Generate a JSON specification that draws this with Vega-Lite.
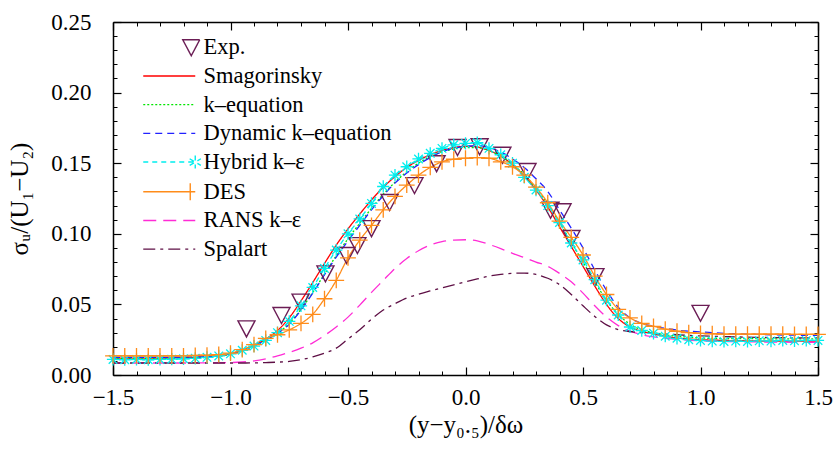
{
"$schema": "https://vega.github.io/schema/vega-lite/v6.json",
"width": 705, "height": 353,
"autosize": {"type": "none"},
"padding": {"left": 113, "top": 22, "right": 15, "bottom": 74},
"background": "white",
"config": {
 "view": {"stroke": null},
 "font": "Liberation Serif",
 "axis": {"labelFont": "Liberation Serif", "titleFont": "Liberation Serif", "labelColor": "black", "titleColor": "black", "domainColor": "black", "tickColor": "black", "grid": false, "labelFontSize": 23, "titleFontSize": 25, "titleFontWeight": "normal", "domainWidth": 1.5, "labelFlush": false}
},
"datasets": {
 "exp": [
  {"s":"Exp.","x":-0.932,"y":0.033},{"s":"Exp.","x":-0.783,"y":0.0425},{"s":"Exp.","x":-0.702,"y":0.052},{"s":"Exp.","x":-0.596,"y":0.072},{"s":"Exp.","x":-0.506,"y":0.085},{"s":"Exp.","x":-0.46,"y":0.092},{"s":"Exp.","x":-0.40,"y":0.104},{"s":"Exp.","x":-0.323,"y":0.1225},{"s":"Exp.","x":-0.217,"y":0.1345},{"s":"Exp.","x":-0.123,"y":0.150},{"s":"Exp.","x":-0.034,"y":0.1615},{"s":"Exp.","x":0.06,"y":0.162},{"s":"Exp.","x":0.157,"y":0.156},{"s":"Exp.","x":0.264,"y":0.1445},{"s":"Exp.","x":0.362,"y":0.117},{"s":"Exp.","x":0.413,"y":0.116},{"s":"Exp.","x":0.451,"y":0.097},{"s":"Exp.","x":0.553,"y":0.070},{"s":"Exp.","x":1.0,"y":0.044}
 ],
 "curves": [
  {"s":"Smagorinsky","x":-1.5,"y":0.012},{"s":"Smagorinsky","x":-1.4,"y":0.012},{"s":"Smagorinsky","x":-1.3,"y":0.012},{"s":"Smagorinsky","x":-1.2,"y":0.0122},{"s":"Smagorinsky","x":-1.1,"y":0.0128},{"s":"Smagorinsky","x":-1.0,"y":0.015},{"s":"Smagorinsky","x":-0.95,"y":0.0178},{"s":"Smagorinsky","x":-0.9,"y":0.021},{"s":"Smagorinsky","x":-0.85,"y":0.0255},{"s":"Smagorinsky","x":-0.8,"y":0.0315},{"s":"Smagorinsky","x":-0.75,"y":0.0405},{"s":"Smagorinsky","x":-0.7,"y":0.0525},{"s":"Smagorinsky","x":-0.65,"y":0.0655},{"s":"Smagorinsky","x":-0.6,"y":0.079},{"s":"Smagorinsky","x":-0.55,"y":0.092},{"s":"Smagorinsky","x":-0.5,"y":0.1035},{"s":"Smagorinsky","x":-0.45,"y":0.114},{"s":"Smagorinsky","x":-0.4,"y":0.124},{"s":"Smagorinsky","x":-0.35,"y":0.133},{"s":"Smagorinsky","x":-0.3,"y":0.1405},{"s":"Smagorinsky","x":-0.25,"y":0.147},{"s":"Smagorinsky","x":-0.2,"y":0.152},{"s":"Smagorinsky","x":-0.15,"y":0.156},{"s":"Smagorinsky","x":-0.1,"y":0.159},{"s":"Smagorinsky","x":-0.05,"y":0.161},{"s":"Smagorinsky","x":0,"y":0.162},{"s":"Smagorinsky","x":0.05,"y":0.1615},{"s":"Smagorinsky","x":0.1,"y":0.159},{"s":"Smagorinsky","x":0.15,"y":0.155},{"s":"Smagorinsky","x":0.2,"y":0.149},{"s":"Smagorinsky","x":0.25,"y":0.141},{"s":"Smagorinsky","x":0.3,"y":0.131},{"s":"Smagorinsky","x":0.35,"y":0.119},{"s":"Smagorinsky","x":0.4,"y":0.105},{"s":"Smagorinsky","x":0.45,"y":0.091},{"s":"Smagorinsky","x":0.5,"y":0.077},{"s":"Smagorinsky","x":0.55,"y":0.063},{"s":"Smagorinsky","x":0.6,"y":0.05},{"s":"Smagorinsky","x":0.65,"y":0.04},{"s":"Smagorinsky","x":0.7,"y":0.034},{"s":"Smagorinsky","x":0.75,"y":0.031},{"s":"Smagorinsky","x":0.8,"y":0.029},{"s":"Smagorinsky","x":0.85,"y":0.0275},{"s":"Smagorinsky","x":0.9,"y":0.0262},{"s":"Smagorinsky","x":0.95,"y":0.0255},{"s":"Smagorinsky","x":1.0,"y":0.025},{"s":"Smagorinsky","x":1.1,"y":0.0245},{"s":"Smagorinsky","x":1.2,"y":0.0242},{"s":"Smagorinsky","x":1.3,"y":0.024},{"s":"Smagorinsky","x":1.4,"y":0.024},{"s":"Smagorinsky","x":1.5,"y":0.024},
  {"s":"k–equation","x":-1.5,"y":0.0118},{"s":"k–equation","x":-1.4,"y":0.0118},{"s":"k–equation","x":-1.3,"y":0.0118},{"s":"k–equation","x":-1.2,"y":0.012},{"s":"k–equation","x":-1.1,"y":0.0127},{"s":"k–equation","x":-1.0,"y":0.0148},{"s":"k–equation","x":-0.95,"y":0.0172},{"s":"k–equation","x":-0.9,"y":0.0205},{"s":"k–equation","x":-0.85,"y":0.0245},{"s":"k–equation","x":-0.8,"y":0.0295},{"s":"k–equation","x":-0.75,"y":0.0365},{"s":"k–equation","x":-0.7,"y":0.0465},{"s":"k–equation","x":-0.65,"y":0.0585},{"s":"k–equation","x":-0.6,"y":0.0715},{"s":"k–equation","x":-0.55,"y":0.0845},{"s":"k–equation","x":-0.5,"y":0.0965},{"s":"k–equation","x":-0.45,"y":0.1075},{"s":"k–equation","x":-0.4,"y":0.118},{"s":"k–equation","x":-0.35,"y":0.128},{"s":"k–equation","x":-0.3,"y":0.1365},{"s":"k–equation","x":-0.25,"y":0.144},{"s":"k–equation","x":-0.2,"y":0.15},{"s":"k–equation","x":-0.15,"y":0.1545},{"s":"k–equation","x":-0.1,"y":0.158},{"s":"k–equation","x":-0.05,"y":0.16},{"s":"k–equation","x":0,"y":0.161},{"s":"k–equation","x":0.05,"y":0.161},{"s":"k–equation","x":0.1,"y":0.159},{"s":"k–equation","x":0.15,"y":0.155},{"s":"k–equation","x":0.2,"y":0.149},{"s":"k–equation","x":0.25,"y":0.142},{"s":"k–equation","x":0.3,"y":0.132},{"s":"k–equation","x":0.35,"y":0.121},{"s":"k–equation","x":0.4,"y":0.108},{"s":"k–equation","x":0.45,"y":0.094},{"s":"k–equation","x":0.5,"y":0.08},{"s":"k–equation","x":0.55,"y":0.066},{"s":"k–equation","x":0.6,"y":0.053},{"s":"k–equation","x":0.65,"y":0.043},{"s":"k–equation","x":0.7,"y":0.036},{"s":"k–equation","x":0.75,"y":0.032},{"s":"k–equation","x":0.8,"y":0.03},{"s":"k–equation","x":0.85,"y":0.0285},{"s":"k–equation","x":0.9,"y":0.0275},{"s":"k–equation","x":0.95,"y":0.0268},{"s":"k–equation","x":1.0,"y":0.0262},{"s":"k–equation","x":1.1,"y":0.0258},{"s":"k–equation","x":1.2,"y":0.0258},{"s":"k–equation","x":1.3,"y":0.0256},{"s":"k–equation","x":1.4,"y":0.0256},{"s":"k–equation","x":1.5,"y":0.0255},
  {"s":"Dynamic k–equation","x":-1.5,"y":0.0125},{"s":"Dynamic k–equation","x":-1.4,"y":0.0125},{"s":"Dynamic k–equation","x":-1.3,"y":0.0125},{"s":"Dynamic k–equation","x":-1.2,"y":0.0127},{"s":"Dynamic k–equation","x":-1.1,"y":0.0132},{"s":"Dynamic k–equation","x":-1.0,"y":0.015},{"s":"Dynamic k–equation","x":-0.95,"y":0.0175},{"s":"Dynamic k–equation","x":-0.9,"y":0.0208},{"s":"Dynamic k–equation","x":-0.85,"y":0.0248},{"s":"Dynamic k–equation","x":-0.8,"y":0.0295},{"s":"Dynamic k–equation","x":-0.75,"y":0.036},{"s":"Dynamic k–equation","x":-0.7,"y":0.046},{"s":"Dynamic k–equation","x":-0.65,"y":0.058},{"s":"Dynamic k–equation","x":-0.6,"y":0.071},{"s":"Dynamic k–equation","x":-0.55,"y":0.0835},{"s":"Dynamic k–equation","x":-0.5,"y":0.095},{"s":"Dynamic k–equation","x":-0.45,"y":0.106},{"s":"Dynamic k–equation","x":-0.4,"y":0.117},{"s":"Dynamic k–equation","x":-0.35,"y":0.127},{"s":"Dynamic k–equation","x":-0.3,"y":0.136},{"s":"Dynamic k–equation","x":-0.25,"y":0.143},{"s":"Dynamic k–equation","x":-0.2,"y":0.149},{"s":"Dynamic k–equation","x":-0.15,"y":0.154},{"s":"Dynamic k–equation","x":-0.1,"y":0.158},{"s":"Dynamic k–equation","x":-0.05,"y":0.1605},{"s":"Dynamic k–equation","x":0,"y":0.162},{"s":"Dynamic k–equation","x":0.05,"y":0.1625},{"s":"Dynamic k–equation","x":0.1,"y":0.161},{"s":"Dynamic k–equation","x":0.15,"y":0.158},{"s":"Dynamic k–equation","x":0.2,"y":0.153},{"s":"Dynamic k–equation","x":0.25,"y":0.147},{"s":"Dynamic k–equation","x":0.3,"y":0.139},{"s":"Dynamic k–equation","x":0.35,"y":0.13},{"s":"Dynamic k–equation","x":0.4,"y":0.117},{"s":"Dynamic k–equation","x":0.45,"y":0.104},{"s":"Dynamic k–equation","x":0.5,"y":0.09},{"s":"Dynamic k–equation","x":0.55,"y":0.0745},{"s":"Dynamic k–equation","x":0.6,"y":0.06},{"s":"Dynamic k–equation","x":0.65,"y":0.048},{"s":"Dynamic k–equation","x":0.7,"y":0.0405},{"s":"Dynamic k–equation","x":0.75,"y":0.0365},{"s":"Dynamic k–equation","x":0.8,"y":0.0345},{"s":"Dynamic k–equation","x":0.85,"y":0.033},{"s":"Dynamic k–equation","x":0.9,"y":0.0318},{"s":"Dynamic k–equation","x":0.95,"y":0.031},{"s":"Dynamic k–equation","x":1.0,"y":0.0305},{"s":"Dynamic k–equation","x":1.1,"y":0.0295},{"s":"Dynamic k–equation","x":1.2,"y":0.029},{"s":"Dynamic k–equation","x":1.3,"y":0.0285},{"s":"Dynamic k–equation","x":1.4,"y":0.0282},{"s":"Dynamic k–equation","x":1.5,"y":0.028},
  {"s":"Hybrid k–ε","x":-1.5,"y":0.011},{"s":"Hybrid k–ε","x":-1.45,"y":0.0108},{"s":"Hybrid k–ε","x":-1.4,"y":0.011},{"s":"Hybrid k–ε","x":-1.35,"y":0.0108},{"s":"Hybrid k–ε","x":-1.3,"y":0.011},{"s":"Hybrid k–ε","x":-1.25,"y":0.0112},{"s":"Hybrid k–ε","x":-1.2,"y":0.0115},{"s":"Hybrid k–ε","x":-1.15,"y":0.0118},{"s":"Hybrid k–ε","x":-1.1,"y":0.0125},{"s":"Hybrid k–ε","x":-1.05,"y":0.0135},{"s":"Hybrid k–ε","x":-1.0,"y":0.015},{"s":"Hybrid k–ε","x":-0.95,"y":0.0175},{"s":"Hybrid k–ε","x":-0.9,"y":0.0205},{"s":"Hybrid k–ε","x":-0.85,"y":0.0245},{"s":"Hybrid k–ε","x":-0.8,"y":0.03},{"s":"Hybrid k–ε","x":-0.75,"y":0.038},{"s":"Hybrid k–ε","x":-0.7,"y":0.049},{"s":"Hybrid k–ε","x":-0.65,"y":0.062},{"s":"Hybrid k–ε","x":-0.6,"y":0.0755},{"s":"Hybrid k–ε","x":-0.55,"y":0.0885},{"s":"Hybrid k–ε","x":-0.5,"y":0.1},{"s":"Hybrid k–ε","x":-0.45,"y":0.1105},{"s":"Hybrid k–ε","x":-0.4,"y":0.1215},{"s":"Hybrid k–ε","x":-0.35,"y":0.1335},{"s":"Hybrid k–ε","x":-0.3,"y":0.1415},{"s":"Hybrid k–ε","x":-0.25,"y":0.1475},{"s":"Hybrid k–ε","x":-0.2,"y":0.153},{"s":"Hybrid k–ε","x":-0.15,"y":0.157},{"s":"Hybrid k–ε","x":-0.1,"y":0.1605},{"s":"Hybrid k–ε","x":-0.05,"y":0.163},{"s":"Hybrid k–ε","x":0,"y":0.164},{"s":"Hybrid k–ε","x":0.05,"y":0.1645},{"s":"Hybrid k–ε","x":0.1,"y":0.1605},{"s":"Hybrid k–ε","x":0.15,"y":0.156},{"s":"Hybrid k–ε","x":0.2,"y":0.15},{"s":"Hybrid k–ε","x":0.25,"y":0.14},{"s":"Hybrid k–ε","x":0.3,"y":0.131},{"s":"Hybrid k–ε","x":0.35,"y":0.12},{"s":"Hybrid k–ε","x":0.4,"y":0.108},{"s":"Hybrid k–ε","x":0.45,"y":0.0935},{"s":"Hybrid k–ε","x":0.5,"y":0.0815},{"s":"Hybrid k–ε","x":0.55,"y":0.0675},{"s":"Hybrid k–ε","x":0.6,"y":0.053},{"s":"Hybrid k–ε","x":0.65,"y":0.0425},{"s":"Hybrid k–ε","x":0.7,"y":0.034},{"s":"Hybrid k–ε","x":0.75,"y":0.0315},{"s":"Hybrid k–ε","x":0.8,"y":0.0295},{"s":"Hybrid k–ε","x":0.85,"y":0.0275},{"s":"Hybrid k–ε","x":0.9,"y":0.026},{"s":"Hybrid k–ε","x":0.95,"y":0.025},{"s":"Hybrid k–ε","x":1.0,"y":0.0245},{"s":"Hybrid k–ε","x":1.05,"y":0.024},{"s":"Hybrid k–ε","x":1.1,"y":0.0238},{"s":"Hybrid k–ε","x":1.15,"y":0.024},{"s":"Hybrid k–ε","x":1.2,"y":0.0238},{"s":"Hybrid k–ε","x":1.25,"y":0.0242},{"s":"Hybrid k–ε","x":1.3,"y":0.024},{"s":"Hybrid k–ε","x":1.35,"y":0.0245},{"s":"Hybrid k–ε","x":1.4,"y":0.0242},{"s":"Hybrid k–ε","x":1.45,"y":0.0245},{"s":"Hybrid k–ε","x":1.5,"y":0.0245},
  {"s":"DES","x":-1.5,"y":0.0135},{"s":"DES","x":-1.45,"y":0.0135},{"s":"DES","x":-1.4,"y":0.0135},{"s":"DES","x":-1.35,"y":0.0135},{"s":"DES","x":-1.3,"y":0.0135},{"s":"DES","x":-1.25,"y":0.0135},{"s":"DES","x":-1.2,"y":0.0135},{"s":"DES","x":-1.15,"y":0.0138},{"s":"DES","x":-1.1,"y":0.014},{"s":"DES","x":-1.05,"y":0.0145},{"s":"DES","x":-1.0,"y":0.0155},{"s":"DES","x":-0.95,"y":0.018},{"s":"DES","x":-0.9,"y":0.0215},{"s":"DES","x":-0.85,"y":0.026},{"s":"DES","x":-0.8,"y":0.0285},{"s":"DES","x":-0.75,"y":0.032},{"s":"DES","x":-0.7,"y":0.0365},{"s":"DES","x":-0.65,"y":0.043},{"s":"DES","x":-0.6,"y":0.054},{"s":"DES","x":-0.55,"y":0.067},{"s":"DES","x":-0.5,"y":0.083},{"s":"DES","x":-0.45,"y":0.0955},{"s":"DES","x":-0.4,"y":0.106},{"s":"DES","x":-0.35,"y":0.117},{"s":"DES","x":-0.3,"y":0.1265},{"s":"DES","x":-0.25,"y":0.1345},{"s":"DES","x":-0.2,"y":0.1415},{"s":"DES","x":-0.15,"y":0.147},{"s":"DES","x":-0.1,"y":0.151},{"s":"DES","x":-0.05,"y":0.1528},{"s":"DES","x":0,"y":0.1535},{"s":"DES","x":0.05,"y":0.154},{"s":"DES","x":0.1,"y":0.1535},{"s":"DES","x":0.15,"y":0.151},{"s":"DES","x":0.2,"y":0.1475},{"s":"DES","x":0.25,"y":0.1415},{"s":"DES","x":0.3,"y":0.133},{"s":"DES","x":0.35,"y":0.122},{"s":"DES","x":0.4,"y":0.109},{"s":"DES","x":0.45,"y":0.0975},{"s":"DES","x":0.5,"y":0.085},{"s":"DES","x":0.55,"y":0.07},{"s":"DES","x":0.6,"y":0.057},{"s":"DES","x":0.65,"y":0.0465},{"s":"DES","x":0.7,"y":0.0405},{"s":"DES","x":0.75,"y":0.0365},{"s":"DES","x":0.8,"y":0.0345},{"s":"DES","x":0.85,"y":0.0325},{"s":"DES","x":0.9,"y":0.031},{"s":"DES","x":0.95,"y":0.03},{"s":"DES","x":1.0,"y":0.0295},{"s":"DES","x":1.05,"y":0.0292},{"s":"DES","x":1.1,"y":0.029},{"s":"DES","x":1.15,"y":0.029},{"s":"DES","x":1.2,"y":0.029},{"s":"DES","x":1.25,"y":0.029},{"s":"DES","x":1.3,"y":0.029},{"s":"DES","x":1.35,"y":0.029},{"s":"DES","x":1.4,"y":0.0288},{"s":"DES","x":1.45,"y":0.0288},{"s":"DES","x":1.5,"y":0.0288},
  {"s":"RANS k–ε","x":-1.5,"y":0.0085},{"s":"RANS k–ε","x":-1.4,"y":0.0085},{"s":"RANS k–ε","x":-1.3,"y":0.0085},{"s":"RANS k–ε","x":-1.2,"y":0.0085},{"s":"RANS k–ε","x":-1.1,"y":0.0086},{"s":"RANS k–ε","x":-1.0,"y":0.0088},{"s":"RANS k–ε","x":-0.95,"y":0.0092},{"s":"RANS k–ε","x":-0.9,"y":0.01},{"s":"RANS k–ε","x":-0.85,"y":0.0115},{"s":"RANS k–ε","x":-0.8,"y":0.0135},{"s":"RANS k–ε","x":-0.75,"y":0.016},{"s":"RANS k–ε","x":-0.7,"y":0.019},{"s":"RANS k–ε","x":-0.65,"y":0.0228},{"s":"RANS k–ε","x":-0.6,"y":0.028},{"s":"RANS k–ε","x":-0.55,"y":0.034},{"s":"RANS k–ε","x":-0.5,"y":0.041},{"s":"RANS k–ε","x":-0.45,"y":0.0495},{"s":"RANS k–ε","x":-0.4,"y":0.0585},{"s":"RANS k–ε","x":-0.35,"y":0.067},{"s":"RANS k–ε","x":-0.3,"y":0.0755},{"s":"RANS k–ε","x":-0.25,"y":0.0825},{"s":"RANS k–ε","x":-0.2,"y":0.088},{"s":"RANS k–ε","x":-0.15,"y":0.092},{"s":"RANS k–ε","x":-0.1,"y":0.0945},{"s":"RANS k–ε","x":-0.05,"y":0.0955},{"s":"RANS k–ε","x":0,"y":0.0958},{"s":"RANS k–ε","x":0.05,"y":0.095},{"s":"RANS k–ε","x":0.1,"y":0.0925},{"s":"RANS k–ε","x":0.15,"y":0.0895},{"s":"RANS k–ε","x":0.2,"y":0.0862},{"s":"RANS k–ε","x":0.25,"y":0.0832},{"s":"RANS k–ε","x":0.3,"y":0.08},{"s":"RANS k–ε","x":0.35,"y":0.077},{"s":"RANS k–ε","x":0.4,"y":0.072},{"s":"RANS k–ε","x":0.45,"y":0.066},{"s":"RANS k–ε","x":0.5,"y":0.058},{"s":"RANS k–ε","x":0.55,"y":0.049},{"s":"RANS k–ε","x":0.6,"y":0.041},{"s":"RANS k–ε","x":0.65,"y":0.035},{"s":"RANS k–ε","x":0.7,"y":0.031},{"s":"RANS k–ε","x":0.75,"y":0.0285},{"s":"RANS k–ε","x":0.8,"y":0.027},{"s":"RANS k–ε","x":0.85,"y":0.026},{"s":"RANS k–ε","x":0.9,"y":0.0252},{"s":"RANS k–ε","x":0.95,"y":0.0246},{"s":"RANS k–ε","x":1.0,"y":0.0242},{"s":"RANS k–ε","x":1.1,"y":0.0238},{"s":"RANS k–ε","x":1.2,"y":0.0235},{"s":"RANS k–ε","x":1.3,"y":0.0233},{"s":"RANS k–ε","x":1.4,"y":0.0232},{"s":"RANS k–ε","x":1.5,"y":0.0232},
  {"s":"Spalart","x":-1.5,"y":0.0085},{"s":"Spalart","x":-1.4,"y":0.0085},{"s":"Spalart","x":-1.3,"y":0.0085},{"s":"Spalart","x":-1.2,"y":0.0085},{"s":"Spalart","x":-1.1,"y":0.0085},{"s":"Spalart","x":-1.0,"y":0.0085},{"s":"Spalart","x":-0.95,"y":0.0085},{"s":"Spalart","x":-0.9,"y":0.0086},{"s":"Spalart","x":-0.85,"y":0.0088},{"s":"Spalart","x":-0.8,"y":0.0091},{"s":"Spalart","x":-0.75,"y":0.0096},{"s":"Spalart","x":-0.7,"y":0.0108},{"s":"Spalart","x":-0.65,"y":0.0128},{"s":"Spalart","x":-0.6,"y":0.0155},{"s":"Spalart","x":-0.55,"y":0.019},{"s":"Spalart","x":-0.5,"y":0.0255},{"s":"Spalart","x":-0.45,"y":0.032},{"s":"Spalart","x":-0.4,"y":0.0395},{"s":"Spalart","x":-0.35,"y":0.046},{"s":"Spalart","x":-0.3,"y":0.0505},{"s":"Spalart","x":-0.25,"y":0.0545},{"s":"Spalart","x":-0.2,"y":0.0572},{"s":"Spalart","x":-0.15,"y":0.0595},{"s":"Spalart","x":-0.1,"y":0.0617},{"s":"Spalart","x":-0.05,"y":0.0638},{"s":"Spalart","x":0,"y":0.066},{"s":"Spalart","x":0.05,"y":0.068},{"s":"Spalart","x":0.1,"y":0.07},{"s":"Spalart","x":0.15,"y":0.0712},{"s":"Spalart","x":0.2,"y":0.072},{"s":"Spalart","x":0.25,"y":0.0722},{"s":"Spalart","x":0.3,"y":0.0712},{"s":"Spalart","x":0.35,"y":0.0685},{"s":"Spalart","x":0.4,"y":0.064},{"s":"Spalart","x":0.45,"y":0.057},{"s":"Spalart","x":0.5,"y":0.049},{"s":"Spalart","x":0.55,"y":0.0415},{"s":"Spalart","x":0.6,"y":0.0355},{"s":"Spalart","x":0.65,"y":0.0322},{"s":"Spalart","x":0.7,"y":0.0308},{"s":"Spalart","x":0.75,"y":0.03},{"s":"Spalart","x":0.8,"y":0.0295},{"s":"Spalart","x":0.85,"y":0.029},{"s":"Spalart","x":0.9,"y":0.0285},{"s":"Spalart","x":0.95,"y":0.028},{"s":"Spalart","x":1.0,"y":0.0277},{"s":"Spalart","x":1.1,"y":0.0272},{"s":"Spalart","x":1.2,"y":0.0268},{"s":"Spalart","x":1.3,"y":0.0265},{"s":"Spalart","x":1.4,"y":0.0263},{"s":"Spalart","x":1.5,"y":0.0262}
 ]
},
"layer": [
 {
  "data": {"name": "curves"},
  "mark": {"type": "line", "strokeWidth": 1.3, "interpolate": "monotone"},
  "encoding": {
   "x": {"field": "x", "type": "quantitative", "scale": {"domain": [-1.5, 1.5], "nice": false, "zero": false},
         "axis": {"orient": "bottom", "values": [-1.5, -1, -0.5, 0, 0.5, 1, 1.5], "format": ".1f", "tickSize": -8, "tickWidth": 1.2, "labelPadding": 19, "title": "(y−y₀.₅)/δω", "titlePadding": 3}},
   "y": {"field": "y", "type": "quantitative", "scale": {"domain": [0, 0.25], "nice": false, "zero": false},
         "axis": {"orient": "left", "values": [0, 0.05, 0.1, 0.15, 0.2, 0.25], "format": ".2f", "tickSize": -8, "tickWidth": 1.2, "labelPadding": 30, "title": "σᵤ/(U₁−U₂)", "titlePadding": 18}},
   "color": {"field": "s", "type": "nominal",
     "scale": {"domain": ["Exp.", "Smagorinsky", "k–equation", "Dynamic k–equation", "Hybrid k–ε", "DES", "RANS k–ε", "Spalart"],
               "range": ["#6B1D55", "#FF0000", "#00E600", "#2222FF", "#00EEEE", "#FF8C1A", "#FF2BD5", "#5E0F45"]},
     "legend": {"orient": "none", "legendX": 45, "legendY": 14, "title": null, "labelFont": "Liberation Serif", "labelFontSize": 22.5, "labelColor": "black", "symbolSize": 400, "symbolStrokeWidth": 1.4, "symbolOffset": 0, "labelOffset": 23, "rowPadding": 5.7, "padding": 0, "labelLimit": 400, "symbolFillColor": "transparent"}},
   "strokeDash": {"field": "s", "type": "nominal",
     "scale": {"domain": ["Exp.", "Smagorinsky", "k–equation", "Dynamic k–equation", "Hybrid k–ε", "DES", "RANS k–ε", "Spalart"],
               "range": [[1, 0], [1, 0], [2, 2], [7, 5], [5, 4], [1, 0], [13, 7], [12, 5, 3, 5]]},
     "legend": {"orient": "none", "legendX": 45, "legendY": 14, "title": null, "labelFont": "Liberation Serif", "labelFontSize": 22.5, "labelColor": "black", "symbolSize": 400, "symbolStrokeWidth": 1.4, "symbolOffset": 0, "labelOffset": 23, "rowPadding": 5.7, "padding": 0, "labelLimit": 400, "symbolFillColor": "transparent"}}
  }
 },
 {
  "data": {"name": "exp"},
  "mark": {"type": "point", "filled": false, "size": 400, "strokeWidth": 1.4, "xOffset": -22, "opacity": 1},
  "encoding": {
   "x": {"field": "x", "type": "quantitative", "axis": {"orient": "top", "values": [-1.5, -1, -0.5, 0, 0.5, 1, 1.5], "labels": false, "tickSize": -8, "tickWidth": 1.2, "title": null}},
   "y": {"field": "y", "type": "quantitative", "axis": {"orient": "right", "values": [0, 0.05, 0.1, 0.15, 0.2, 0.25], "labels": false, "tickSize": -8, "tickWidth": 1.2, "title": null}},
   "color": {"field": "s", "type": "nominal", "legend": {"orient": "none", "legendX": 45, "legendY": 14, "title": null, "labelFont": "Liberation Serif", "labelFontSize": 22.5, "labelColor": "black", "symbolSize": 400, "symbolStrokeWidth": 1.4, "symbolOffset": 0, "labelOffset": 23, "rowPadding": 5.7, "padding": 0, "labelLimit": 400, "symbolFillColor": "transparent"}},
   "shape": {"field": "s", "type": "nominal",
     "scale": {"domain": ["Exp.", "Smagorinsky", "k–equation", "Dynamic k–equation", "Hybrid k–ε", "DES", "RANS k–ε", "Spalart"],
               "range": ["M1.35,-0.75L3.05,-0.75L2.2,0.85Z", "M-2.6,0L2.6,0", "M-2.6,0L2.6,0", "M-2.6,0L2.6,0", "M-2.6,0L2.6,0M2.6,-0.65L2.6,0.65M2.04,-0.33L3.16,0.33M2.04,0.33L3.16,-0.33", "M-2.6,0L2.6,0M2.1,-0.85L2.1,0.85", "M-2.6,0L2.6,0", "M-2.6,0L2.6,0"]},
     "legend": {"orient": "none", "legendX": 45, "legendY": 14, "title": null, "labelFont": "Liberation Serif", "labelFontSize": 22.5, "labelColor": "black", "symbolSize": 400, "symbolStrokeWidth": 1.4, "symbolOffset": 0, "labelOffset": 23, "rowPadding": 5.7, "padding": 0, "labelLimit": 400, "symbolFillColor": "transparent"}}
  }
 },
 {
  "data": {"name": "curves"},
  "transform": [{"filter": {"field": "s", "equal": "Hybrid k–ε"}}],
  "mark": {"type": "point", "filled": false, "shape": "M-1,0L1,0M0,-1L0,1M-0.7,-0.7L0.7,0.7M-0.7,0.7L0.7,-0.7", "size": 150, "stroke": "#00EEEE", "strokeWidth": 1.3, "opacity": 1},
  "encoding": {
   "x": {"field": "x", "type": "quantitative", "axis": {"orient": "bottom", "values": [-1.4, -1.3, -1.2, -1.1, -0.9, -0.8, -0.7, -0.6, -0.4, -0.3, -0.2, -0.1, 0.1, 0.2, 0.3, 0.4, 0.6, 0.7, 0.8, 0.9, 1.1, 1.2, 1.3, 1.4], "labels": false, "domain": false, "tickSize": -4, "tickWidth": 1, "title": null}},
   "y": {"field": "y", "type": "quantitative", "axis": {"orient": "left", "values": [0.01, 0.02, 0.03, 0.04, 0.06, 0.07, 0.08, 0.09, 0.11, 0.12, 0.13, 0.14, 0.16, 0.17, 0.18, 0.19, 0.21, 0.22, 0.23, 0.24], "labels": false, "domain": false, "tickSize": -4, "tickWidth": 1, "title": null}}
  }
 },
 {
  "data": {"name": "curves"},
  "transform": [{"filter": {"field": "s", "equal": "DES"}}],
  "mark": {"type": "point", "filled": false, "shape": "M-1,0L1,0M0,-1L0,1", "size": 250, "stroke": "#FF8C1A", "strokeWidth": 1.3, "opacity": 1},
  "encoding": {
   "x": {"field": "x", "type": "quantitative", "axis": {"orient": "top", "values": [-1.4, -1.3, -1.2, -1.1, -0.9, -0.8, -0.7, -0.6, -0.4, -0.3, -0.2, -0.1, 0.1, 0.2, 0.3, 0.4, 0.6, 0.7, 0.8, 0.9, 1.1, 1.2, 1.3, 1.4], "labels": false, "domain": false, "tickSize": -4, "tickWidth": 1, "title": null}},
   "y": {"field": "y", "type": "quantitative", "axis": {"orient": "right", "values": [0.01, 0.02, 0.03, 0.04, 0.06, 0.07, 0.08, 0.09, 0.11, 0.12, 0.13, 0.14, 0.16, 0.17, 0.18, 0.19, 0.21, 0.22, 0.23, 0.24], "labels": false, "domain": false, "tickSize": -4, "tickWidth": 1, "title": null}}
  }
 }
],
"resolve": {"axis": {"x": "independent", "y": "independent"}}
}
